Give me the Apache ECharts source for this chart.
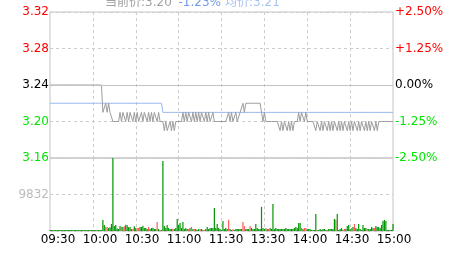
<!DOCTYPE html>
<html>
<head>
<meta charset="utf-8">
<script src="https://cdn.jsdelivr.net/npm/echarts@6/dist/echarts.min.js"></script>
<style>
html,body{margin:0;padding:0;background:#fff;}
#c{width:463px;height:255px;}
</style>
</head>
<body>
<div id="c"></div>
<script>
// ---- data ----
var prevClose = 3.24;
var tickLabels = ['09:30','10:00','10:30','11:00','11:30','13:30','14:00','14:30','15:00'];
var priceTicks = [3.16, 3.20, 3.24, 3.28, 3.32];
var pctTicks = ['-2.50%','-1.25%','0.00%','+1.25%','+2.50%'];
var volTicks = [0, 9832, 19664];

var price = [
3.24,3.24,3.24,3.24,3.24,3.24,3.24,3.24,3.24,3.24,
3.24,3.24,3.24,3.24,3.24,3.24,3.24,3.24,3.24,3.24,
3.24,3.24,3.24,3.24,3.24,3.24,3.24,3.24,3.24,3.24,
3.24,3.24,3.24,3.24,3.24,3.24,3.24,3.21,3.21,3.22,
3.21,3.22,3.21,3.21,3.20,3.20,3.20,3.20,3.20,3.21,
3.20,3.21,3.21,3.20,3.21,3.20,3.21,3.21,3.20,3.21,
3.20,3.21,3.20,3.20,3.21,3.20,3.21,3.21,3.20,3.21,
3.20,3.21,3.20,3.21,3.21,3.20,3.21,3.20,3.20,3.20,
3.19,3.20,3.19,3.19,3.20,3.19,3.20,3.19,3.20,3.20,
3.20,3.20,3.20,3.21,3.20,3.21,3.20,3.21,3.21,3.20,
3.21,3.20,3.21,3.20,3.21,3.20,3.21,3.21,3.20,3.21,
3.20,3.21,3.20,3.20,3.21,3.20,3.20,3.20,3.20,3.20,
3.20,3.20,3.20,3.20,3.20,3.21,3.20,3.21,3.20,3.20,
3.21,3.20,3.20,3.21,3.21,3.22,3.21,3.22,3.22,3.22,
3.22,3.22,3.22,3.22,3.22,3.22,3.22,3.22,3.21,3.20,
3.21,3.20,3.20,3.20,3.20,3.20,3.20,3.20,3.20,3.20,
3.20,3.19,3.20,3.19,3.20,3.20,3.19,3.20,3.19,3.20,
3.19,3.20,3.20,3.20,3.21,3.20,3.21,3.21,3.20,3.21,
3.20,3.20,3.20,3.20,3.20,3.20,3.19,3.20,3.20,3.19,
3.20,3.19,3.20,3.20,3.19,3.20,3.19,3.20,3.19,3.20,
3.20,3.19,3.20,3.19,3.20,3.19,3.20,3.20,3.19,3.20,
3.19,3.20,3.19,3.20,3.20,3.19,3.20,3.19,3.20,3.20,
3.19,3.20,3.19,3.20,3.19,3.20,3.20,3.19,3.20,3.19,
3.20,3.20,3.20,3.20,3.20,3.20,3.20,3.20,3.20,3.20,
3.20
];

var avgPrice = [
3.22,3.22,3.22,3.22,3.22,3.22,3.22,3.22,3.22,3.22,
3.22,3.22,3.22,3.22,3.22,3.22,3.22,3.22,3.22,3.22,
3.22,3.22,3.22,3.22,3.22,3.22,3.22,3.22,3.22,3.22,
3.22,3.22,3.22,3.22,3.22,3.22,3.22,3.22,3.22,3.22,
3.22,3.22,3.22,3.22,3.22,3.22,3.22,3.22,3.22,3.22,
3.22,3.22,3.22,3.22,3.22,3.22,3.22,3.22,3.22,3.22,
3.22,3.22,3.22,3.22,3.22,3.22,3.22,3.22,3.22,3.22,
3.22,3.22,3.22,3.22,3.22,3.22,3.22,3.22,3.22,3.21,
3.21,3.21,3.21,3.21,3.21,3.21,3.21,3.21,3.21,3.21,
3.21,3.21,3.21,3.21,3.21,3.21,3.21,3.21,3.21,3.21,
3.21,3.21,3.21,3.21,3.21,3.21,3.21,3.21,3.21,3.21,
3.21,3.21,3.21,3.21,3.21,3.21,3.21,3.21,3.21,3.21,
3.21,3.21,3.21,3.21,3.21,3.21,3.21,3.21,3.21,3.21,
3.21,3.21,3.21,3.21,3.21,3.21,3.21,3.21,3.21,3.21,
3.21,3.21,3.21,3.21,3.21,3.21,3.21,3.21,3.21,3.21,
3.21,3.21,3.21,3.21,3.21,3.21,3.21,3.21,3.21,3.21,
3.21,3.21,3.21,3.21,3.21,3.21,3.21,3.21,3.21,3.21,
3.21,3.21,3.21,3.21,3.21,3.21,3.21,3.21,3.21,3.21,
3.21,3.21,3.21,3.21,3.21,3.21,3.21,3.21,3.21,3.21,
3.21,3.21,3.21,3.21,3.21,3.21,3.21,3.21,3.21,3.21,
3.21,3.21,3.21,3.21,3.21,3.21,3.21,3.21,3.21,3.21,
3.21,3.21,3.21,3.21,3.21,3.21,3.21,3.21,3.21,3.21,
3.21,3.21,3.21,3.21,3.21,3.21,3.21,3.21,3.21,3.21,
3.21,3.21,3.21,3.21,3.21,3.21,3.21,3.21,3.21,3.21,
3.21
];

var volume = [
0,0,0,0,0,0,0,0,0,0,
0,0,0,0,0,0,0,0,0,0,
0,0,0,0,0,0,0,0,0,0,
0,0,0,0,0,0,0,2970,1620,1080,
1100,810,1000,1900,19664,1350,1600,700,540,1350,
1100,1050,1300,1650,1550,1000,1080,500,600,1300,
800,750,800,1100,1080,1400,810,800,550,1100,
540,810,850,540,560,2450,540,300,300,18830,
1350,810,1600,800,540,560,600,520,810,3250,
1600,2150,800,2450,540,810,540,540,810,1100,
540,550,520,270,540,560,540,270,300,540,
1080,540,810,800,820,6200,810,1900,800,540,
270,2700,540,810,540,3000,540,270,560,270,
540,540,520,540,560,2450,1350,540,540,520,
1350,810,540,560,1900,810,540,520,6500,810,
540,810,540,560,810,540,7300,540,810,540,
520,540,560,540,520,810,540,520,540,560,
540,810,1080,810,2150,2150,810,540,810,810,
540,540,520,270,300,270,4600,270,300,540,
270,540,560,270,300,540,520,540,560,3250,
3000,4600,270,540,810,270,540,560,1350,1620,
540,810,1080,1900,810,540,1900,540,270,1620,
810,800,540,560,540,1080,810,810,1350,1080,
1100,810,1620,2700,3000,2700,270,300,270,300,
1900
];

var redBars = [39,40,50,52,58,61,62,69,75,77,86,97,99,101,105,108,125,128,135,136,140,151,153,176,178,179,187,194,200,206,211,213,222,227];

// minute categories (09:30-11:30, 13:01-15:00)
var minutes = [];
(function(){
  function fmt(h,m){return (h<10?'0':'')+h+':'+(m<10?'0':'')+m;}
  for (var t=9*60+30; t<=11*60+30; t++) minutes.push(fmt(Math.floor(t/60), t%60));
  for (var t2=13*60+1; t2<=15*60; t2++) minutes.push(fmt(Math.floor(t2/60), t2%60));
})();

var FONT = 'DejaVu Sans';
var RED = '#ff0000', GREEN = '#00e600', GRIDC = '#c4c4c4', DASHC = '#cccccc';
var redSet = {};
redBars.forEach(function(i){redSet[i]=true;});

function vSplit(i){ return i % 30 === 0 && i !== 0 && i !== 240; }

var chart = echarts.init(document.getElementById('c'), null, {renderer:'canvas'});
chart.setOption({
  animation: false,
  backgroundColor: '#fff',
  graphic: [
    {type:'text', left:105, top:-3, style:{text:'当前价:3.20', fill:'#a0a0a0', font:'12px "DejaVu Sans","Noto Sans CJK SC"'}},
    {type:'text', left:178.5, top:-3, style:{text:'-1.23%', fill:'#6f9be8', font:'12px "DejaVu Sans","Noto Sans CJK SC"'}},
    {type:'text', left:225, top:-3, style:{text:'均价:3.21', fill:'#a6c2f0', font:'12px "DejaVu Sans","Noto Sans CJK SC"'}}
  ],
  grid: [
    {left:50, right:70, top:12, height:146, show:true, borderColor:GRIDC, borderWidth:1},
    {left:50, right:70, top:158, height:73, show:true, borderColor:GRIDC, borderWidth:1},
    {left:58, right:69, top:158, height:73, show:false}
  ],
  xAxis: [
    {type:'category', gridIndex:0, data:minutes, boundaryGap:false,
     axisLine:{show:false}, axisTick:{show:false}, axisLabel:{show:false},
     splitLine:{show:true, interval:vSplit, lineStyle:{color:DASHC, type:[3,3], width:1}}},
    {type:'category', gridIndex:1, data:minutes, boundaryGap:false,
     axisLine:{show:false}, axisTick:{show:false}, axisLabel:{show:false},
     splitLine:{show:true, interval:vSplit, lineStyle:{color:DASHC, type:[3,3], width:1}}},
    {type:'category', gridIndex:2, data:tickLabels, boundaryGap:false,
     axisLine:{show:false}, axisTick:{show:false}, splitLine:{show:false},
     axisLabel:{show:true, interval:0, margin:3, color:'#000', fontFamily:FONT, fontSize:12}}
  ],
  yAxis: [
    {type:'value', gridIndex:0, position:'left', min:priceTicks[0], max:priceTicks[4], interval:0.04,
     axisLine:{show:false}, axisTick:{show:false},
     splitLine:{show:true, lineStyle:{color:DASHC, type:[3,3], width:1}},
     axisLabel:{margin:1, fontFamily:FONT, fontSize:12,
       formatter:function(v){return Number(v).toFixed(2);},
       color:function(v){var x=Number(v); if(Math.abs(x-prevClose)<1e-6) return '#000'; return x>prevClose?RED:GREEN;}}},
    {type:'value', gridIndex:0, position:'right', min:-2.5, max:2.5, interval:1.25,
     axisLine:{show:false}, axisTick:{show:false}, splitLine:{show:false},
     axisLabel:{margin:2, fontFamily:FONT, fontSize:12,
       formatter:function(v){var x=Number(v); var i=Math.round(x/1.25)+2; return pctTicks[i];},
       color:function(v){var x=Number(v); if(Math.abs(x)<1e-6) return '#000'; return x>0?RED:GREEN;}}},
    {type:'value', gridIndex:1, position:'left', min:volTicks[0], max:volTicks[2], interval:9832,
     axisLine:{show:false}, axisTick:{show:false},
     splitLine:{show:true, lineStyle:{color:DASHC, type:[3,3], width:1}},
     axisLabel:{margin:1, fontFamily:FONT, fontSize:12, color:'#bbbbbb',
       formatter:function(v){return Number(v)===volTicks[1]?String(volTicks[1]):'';}}},
    {type:'value', gridIndex:2, show:false}
  ],
  series: [
    {type:'bar', xAxisIndex:1, yAxisIndex:2, data:volume, barWidth:1.2, barMinHeight:1,
     itemStyle:{color:function(p){return redSet[p.dataIndex]?'#ff5a5a':'#009600';}}},
    {type:'line', xAxisIndex:0, yAxisIndex:0, data:avgPrice, symbol:'none',
     lineStyle:{color:'#96b6ee', width:1}, z:3},
    {type:'line', xAxisIndex:0, yAxisIndex:0, data:price, symbol:'none',
     lineStyle:{color:'#9c9c9c', width:1}, z:4,
     markLine:{silent:true, symbol:'none', label:{show:false},
       lineStyle:{color:GRIDC, type:'solid', width:1},
       data:[{yAxis:prevClose}]}}
  ]
});
</script>
</body>
</html>
